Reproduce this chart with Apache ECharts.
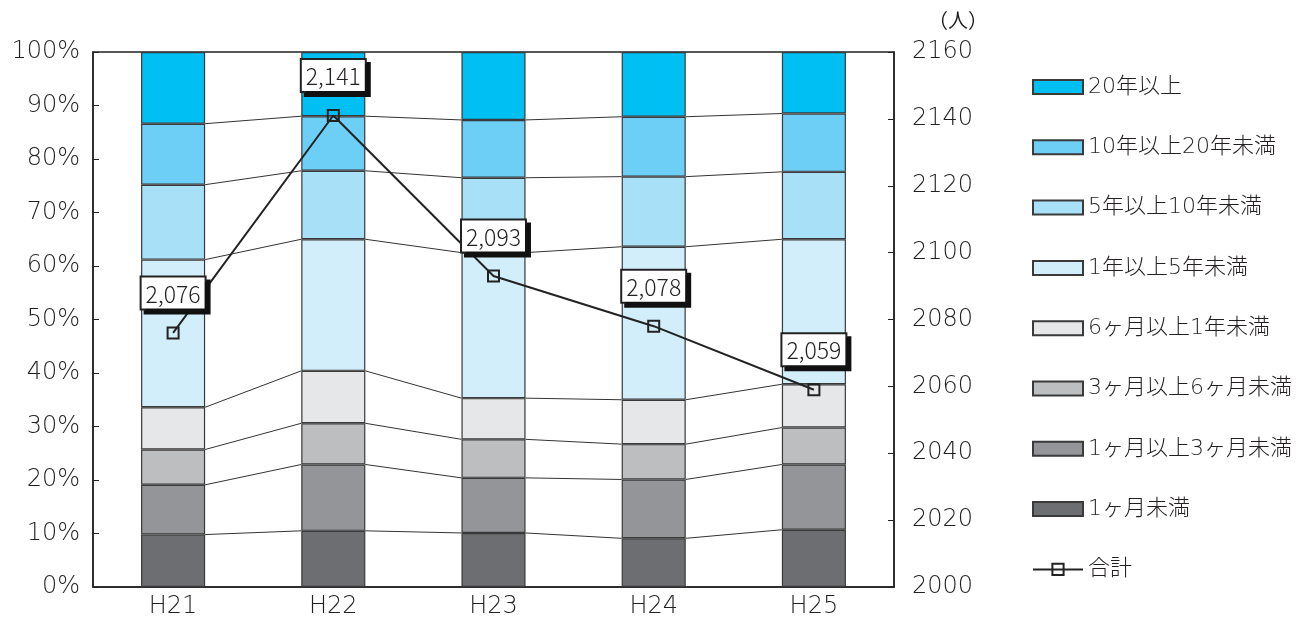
<!DOCTYPE html>
<html><head><meta charset="utf-8">
<script src="https://cdn.jsdelivr.net/npm/echarts@6/dist/echarts.min.js"></script>
<style>html,body{margin:0;padding:0;background:#fff}#c{width:1305px;height:623px}</style>
</head><body><div id="c"></div>
<script>
const categories = ['H21','H22','H23','H24','H25'];
// shares (%) bottom to top
const lt1m     = [9.8, 10.5, 10.1, 9.1, 10.7];
const m1to3    = [9.3, 12.4, 10.3, 11.0, 12.2];
const m3to6    = [6.6, 7.7, 7.2, 6.6, 6.9];
const m6to1y   = [7.9, 9.8, 7.7, 8.3, 8.1];
const y1to5    = [27.6, 24.6, 27.2, 28.6, 27.1];
const y5to10   = [14.0, 12.8, 14.0, 13.1, 12.6];
const y10to20  = [11.4, 10.2, 10.8, 11.2, 10.9];
const y20plus  = [13.4, 12.0, 12.7, 12.1, 11.5];
const totals   = [2076, 2141, 2093, 2078, 2059];
const leftTicks = {min:0, max:100, interval:10};
const rightTicks = {min:2000, max:2160, interval:20};

const names = ['1ヶ月未満','1ヶ月以上3ヶ月未満','3ヶ月以上6ヶ月未満','6ヶ月以上1年未満','1年以上5年未満','5年以上10年未満','10年以上20年未満','20年以上'];
const values = [lt1m, m1to3, m3to6, m6to1y, y1to5, y5to10, y10to20, y20plus];
const colors = ['#6d6e71','#939598','#bcbec0','#e6e7e8','#d3eefb','#a8e0f8','#6dcff6','#00bff3'];

// cumulative boundaries for connector lines
const cum = values.map((_, k) => categories.map((c, i) => {
  let s = 0; for (let j = 0; j <= k; j++) s += values[j][i]; return s;
}));
const FONT = '"DejaVu Sans", "Noto Sans CJK JP", sans-serif';
const LFONT = '"Noto Sans CJK JP", "Liberation Sans", sans-serif';
const TXT = '#231f20';

const barSeries = names.map((n, k) => ({
  name: n, type: 'bar', stack: 'a', barWidth: '40%', data: values[k],
  itemStyle: {color: colors[k], borderColor: '#3a3a3a', borderWidth: 1.2, borderRadius: 0},
  emphasis: {disabled: true}, z: 2
}));

const connector = {
  type: 'custom', silent: true, z: 1,
  data: categories.slice(0, -1).map((c, i) => [i]),
  encode: {x: 0},
  renderItem: function (params, api) {
    const i = api.value(0);
    const bw = api.size([1, 0])[0] * 0.4;
    const children = [];
    for (let k = 0; k < cum.length - 1; k++) {
      const p1 = api.coord([i, cum[k][i]]);
      const p2 = api.coord([i + 1, cum[k][i + 1]]);
      children.push({type: 'line', shape: {x1: p1[0] + bw / 2, y1: p1[1], x2: p2[0] - bw / 2, y2: p2[1]},
        style: {stroke: '#333', lineWidth: 1}});
    }
    return {type: 'group', children: children};
  }
};

const lineSeries = {
  name: '合計', type: 'line', yAxisIndex: 1, data: totals, z: 5,
  symbol: 'rect', symbolSize: 11, showAllSymbol: true,
  lineStyle: {color: '#222', width: 2},
  itemStyle: {color: 'rgba(255,255,255,0)', borderColor: '#222', borderWidth: 2},
  label: {
    show: true, position: 'top', distance: 18,
    formatter: p => p.value.toLocaleString('en-US'),
    fontFamily: LFONT, fontSize: 23, fontWeight: 300, color: TXT,
    backgroundColor: '#fff', borderColor: '#222', borderWidth: 2,
    padding: [5, 4, 3, 4],
    shadowColor: '#111', shadowOffsetX: 4, shadowOffsetY: 4, shadowBlur: 0
  },
  emphasis: {disabled: true}
};

const legendNames = ['20年以上','10年以上20年未満','5年以上10年未満','1年以上5年未満','6ヶ月以上1年未満','3ヶ月以上6ヶ月未満','1ヶ月以上3ヶ月未満','1ヶ月未満'];

const chart = echarts.init(document.getElementById('c'), null, {renderer: 'canvas'});
chart.setOption({
  animation: false,
  textStyle: {fontFamily: FONT},
  grid: {left: 93, right: 411, top: 52, bottom: 36, show: true, borderColor: '#222', borderWidth: 1.5, backgroundColor: 'transparent'},
  legend: {
    orient: 'vertical', left: 1032, top: 76, padding: 0,
    itemWidth: 50, itemHeight: 14, itemGap: 38.3,
    data: legendNames.map(n => ({name: n, icon: 'rect'})).concat([{name: '合計'}]),
    textStyle: {fontFamily: FONT, fontSize: 22, fontWeight: 300, color: TXT, lineHeight: 20},
    selectedMode: false
  },
  xAxis: {
    type: 'category', data: categories,
    axisLine: {lineStyle: {color: '#222', width: 1.5}},
    axisTick: {inside: true, length: 6, lineStyle: {color: '#222'}},
    axisLabel: {fontFamily: FONT, fontSize: 24, fontWeight: 200, color: TXT, margin: 8}
  },
  yAxis: [{
    type: 'value', min: leftTicks.min, max: leftTicks.max, interval: leftTicks.interval,
    splitLine: {show: false},
    axisLine: {show: true, lineStyle: {color: '#222', width: 1.5}},
    axisTick: {show: true, inside: true, length: 6, lineStyle: {color: '#222'}},
    axisLabel: {formatter: '{value}%', fontFamily: FONT, fontSize: 24, fontWeight: 200, color: TXT, margin: 13}
  }, {
    type: 'value', min: rightTicks.min, max: rightTicks.max, interval: rightTicks.interval,
    name: '（人）', nameLocation: 'end', nameGap: 22,
    nameTextStyle: {fontFamily: LFONT, fontSize: 20, color: TXT, align: 'left', padding: [0, 0, 0, 34]},
    splitLine: {show: false},
    axisLine: {show: true, lineStyle: {color: '#222', width: 1.5}},
    axisTick: {show: true, inside: true, length: 6, lineStyle: {color: '#222'}},
    axisLabel: {formatter: v => String(v), fontFamily: FONT, fontSize: 24, fontWeight: 200, color: TXT, margin: 18}
  }],
  series: [...barSeries, connector, lineSeries]
});
</script></body></html>
